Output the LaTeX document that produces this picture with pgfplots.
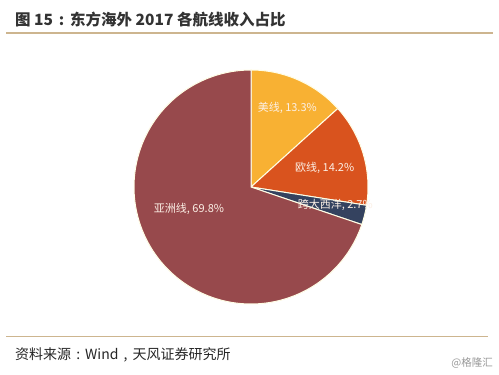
\documentclass[border=0pt]{standalone}
\usepackage{fontspec}
\setmainfont{Noto Sans CJK SC}
\usepackage{pgfplots}
\pgfplotsset{compat=1.18}
\definecolor{cYellow}{HTML}{F8B133}
\definecolor{cOrange}{HTML}{D9531E}
\definecolor{cNavy}{HTML}{34425F}
\definecolor{cMaroon}{HTML}{97494C}
\definecolor{cLine}{HTML}{CDB58F}
\definecolor{cTitle}{HTML}{333333}
\definecolor{cLabel}{HTML}{FCF0E6}
\newcommand{\cc}[1]{\makebox[1em][c]{#1}}
\begin{document}
\begin{tikzpicture}
\fill[white] (0pt,0pt) rectangle (499pt,375pt);
\node[anchor=west, text=cTitle, font=\fontsize{15.5}{17}\selectfont\bfseries, inner sep=0pt] at (15pt,355pt) {图 15\makebox[1.1em][c]{:}东方海外 2017 各航线收入占比};
\draw[cLine, line width=1.5pt] (6pt,342pt) -- (493pt,342pt);
\draw[cLine, line width=1pt] (6pt,38pt) -- (488pt,38pt);
\node[anchor=west, text=black!85, font=\fontsize{14}{16}\selectfont, inner sep=0pt] at (15pt,20pt) {资料来源\cc{:}Wind\cc{,}天风证券研究所};
\node[anchor=east, text=black!40, font=\fontsize{10.5}{12}\selectfont, inner sep=0pt] at (493pt,12pt) {@格隆汇};
% data (percent)
\pgfmathsetmacro{\vA}{13.3}% 美线
\pgfmathsetmacro{\vB}{14.2}% 欧线
\pgfmathsetmacro{\vC}{2.7}% 跨大西洋
\pgfmathsetmacro{\vD}{69.8}% 亚洲线
\pgfmathsetmacro{\aA}{90}
\pgfmathsetmacro{\aB}{90-3.6*\vA}
\pgfmathsetmacro{\aC}{\aB-3.6*\vB}
\pgfmathsetmacro{\aD}{\aC-3.6*\vC}
\pgfmathsetmacro{\aE}{\aD-3.6*\vD}
\begin{axis}[at={(251pt,188pt)}, anchor=center, scale only axis,
  width=280.8pt, height=280.8pt, xmin=-1.2, xmax=1.2, ymin=-1.2, ymax=1.2,
  hide axis, clip=false]
\addplot[fill=cYellow, draw=white!90!yellow, line width=1pt, domain=\aB:\aA, samples=60, variable=\t]
  ({cos(\t)},{sin(\t)}) -- (axis cs:0,0) -- cycle;
\addplot[fill=cOrange, draw=white!90!yellow, line width=1pt, domain=\aC:\aB, samples=60, variable=\t]
  ({cos(\t)},{sin(\t)}) -- (axis cs:0,0) -- cycle;
\addplot[fill=cNavy, draw=white!90!yellow, line width=1pt, domain=\aD:\aC, samples=20, variable=\t]
  ({cos(\t)},{sin(\t)}) -- (axis cs:0,0) -- cycle;
\addplot[fill=cMaroon, draw=white!90!yellow, line width=1pt, domain=\aE:\aD, samples=150, variable=\t]
  ({cos(\t)},{sin(\t)}) -- (axis cs:0,0) -- cycle;
\node[text=cLabel, font=\fontsize{11}{12}\selectfont] at (axis cs:0.31,0.68) {美线, 13.3\%};
\node[text=cLabel, font=\fontsize{11}{12}\selectfont] at (axis cs:0.63,0.16) {欧线, 14.2\%};
\node[text=cLabel, font=\fontsize{11}{12}\selectfont] at (axis cs:0.72,-0.15) {跨大西洋, 2.7\%};
\node[text=cLabel, font=\fontsize{11}{12}\selectfont] at (axis cs:-0.53,-0.19) {亚洲线, 69.8\%};
\end{axis}
\end{tikzpicture}
\end{document}
